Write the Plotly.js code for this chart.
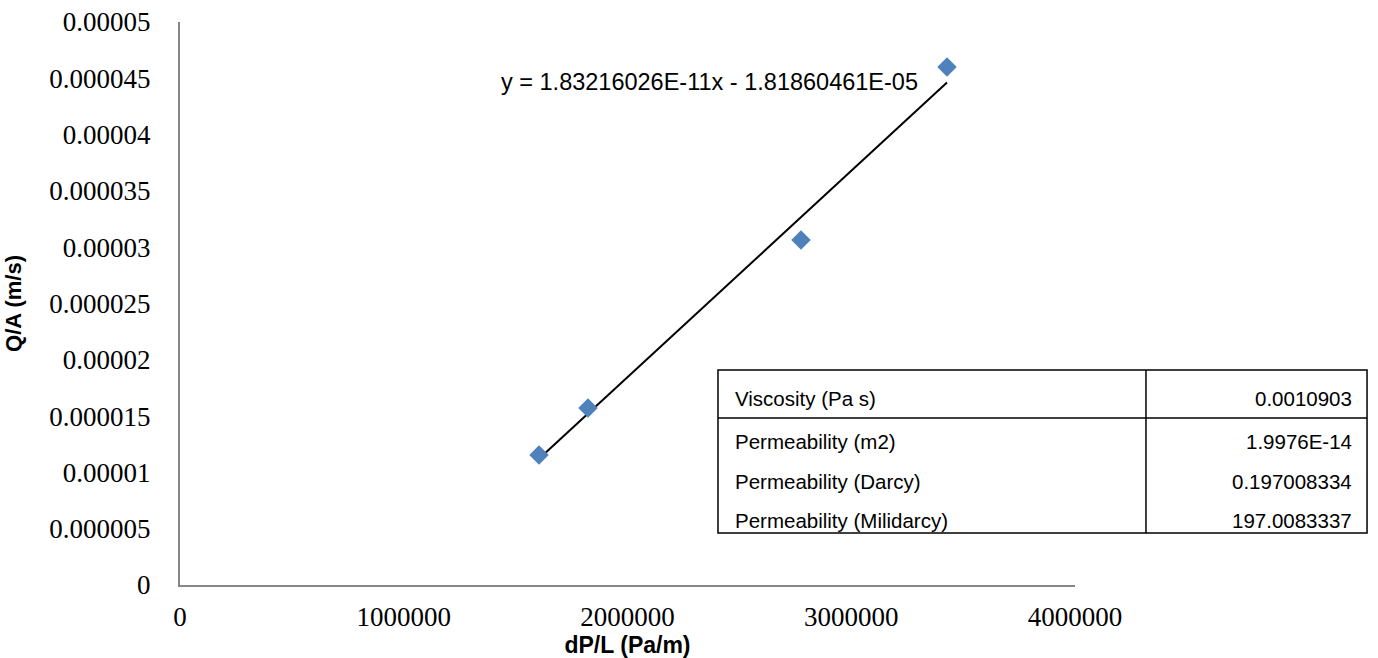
<!DOCTYPE html>
<html>
<head>
<meta charset="utf-8">
<script src="https://cdn.plot.ly/plotly-3.0.1.min.js"></script>
<style>html,body{margin:0;padding:0;background:#fff;}#chart{width:1378px;height:658px;}</style>
</head>
<body>
<div id="chart"></div>
<script>
// Data
const dPL = [1604500, 1823500, 2775400, 3427900];
const QA = [1.1545e-5, 1.572e-5, 3.064e-5, 4.600e-5];
const slope = 1.83216026e-11;
const intercept = -1.81860461e-5;
const equationText = 'y = 1.83216026E-11x - 1.81860461E-05';
const tableLabels = ['Viscosity (Pa s)', 'Permeability (m2)', 'Permeability (Darcy)', 'Permeability (Milidarcy)'];
const tableValues = ['0.0010903', '1.9976E-14', '0.197008334', '197.0083337'];
const xTicks = [0, 1000000, 2000000, 3000000, 4000000];
const yTicks = [0, 0.000005, 0.00001, 0.000015, 0.00002, 0.000025, 0.00003, 0.000035, 0.00004, 0.000045, 0.00005];
const yTickText = ['0', '0.000005', '0.00001', '0.000015', '0.00002', '0.000025', '0.00003', '0.000035', '0.00004', '0.000045', '0.00005'];

const xMin = Math.min(...dPL), xMax = Math.max(...dPL);
const trendX = [xMin, xMax];
const trendY = trendX.map(v => slope * v + intercept);

const traces = [
  {x: trendX, y: trendY, mode: 'lines', type: 'scatter', line: {color: '#000', width: 2}, hoverinfo: 'skip', showlegend: false},
  {x: dPL, y: QA, mode: 'markers', type: 'scatter', marker: {symbol: 'diamond', size: 15, color: '#4F81BD'}, showlegend: false}
];

// table geometry (paper coords)
const tx0 = 0.6011, tx1 = 1.3263, tdiv = 1.0793;
const rowTops = [0.3819, 0.2966, 0.2255, 0.1563];
const tyBot = 0.0924;
const shapes = [
  {type: 'rect', xref: 'paper', yref: 'paper', x0: tx0, x1: tx1, y0: tyBot, y1: rowTops[0], line: {color: '#000', width: 1.5}, fillcolor: 'rgba(0,0,0,0)'},
  {type: 'line', xref: 'paper', yref: 'paper', x0: tdiv, x1: tdiv, y0: tyBot, y1: rowTops[0], line: {color: '#000', width: 1.5}},
  {type: 'line', xref: 'paper', yref: 'paper', x0: tx0, x1: tx1, y0: rowTops[1], y1: rowTops[1], line: {color: '#000', width: 1.5}}
];
const rowCenters = [0.3321, 0.2557, 0.1847, 0.1137];
const annotations = [
  {xref: 'x', yref: 'y', x: 3307000, y: 4.465e-5, text: equationText, showarrow: false, xanchor: 'right', yanchor: 'middle',
   font: {family: 'Liberation Sans, Arial, sans-serif', size: 23.5, color: '#000'}}
];
tableLabels.forEach((t, i) => {
  annotations.push({xref: 'paper', yref: 'paper', x: tx0 + 0.017, y: rowCenters[i], text: t, showarrow: false, xanchor: 'left', yanchor: 'middle',
    font: {family: 'Liberation Sans, Arial, sans-serif', size: 20.5, color: '#000'}});
  annotations.push({xref: 'paper', yref: 'paper', x: tx1 - 0.015, y: rowCenters[i], text: tableValues[i], showarrow: false, xanchor: 'right', yanchor: 'middle',
    font: {family: 'Liberation Sans, Arial, sans-serif', size: 20.5, color: '#000'}});
});

const tickFont = {family: 'Liberation Serif, Times New Roman, serif', size: 27, color: '#000'};
const layout = {
  width: 1378, height: 658,
  margin: {l: 180, r: 303, t: 22, b: 73},
  paper_bgcolor: '#fff', plot_bgcolor: '#fff',
  showlegend: false,
  xaxis: {
    range: [0, 4000000], tickvals: xTicks, ticktext: xTicks.map(String),
    showgrid: false, zeroline: false, showline: true, linecolor: '#868686', linewidth: 2,
    ticks: '', ticklabelstandoff: 7, tickfont: tickFont,
    title: {text: 'dP/L (Pa/m)', font: {family: 'Liberation Sans, Arial, sans-serif', size: 23, color: '#000', weight: 'bold'}, standoff: 3}
  },
  yaxis: {
    range: [0, 0.00005], tickvals: yTicks, ticktext: yTickText,
    showgrid: false, zeroline: false, showline: true, linecolor: '#868686', linewidth: 2,
    ticks: '', ticklabelstandoff: 22, tickfont: tickFont,
    title: {text: 'Q/A (m/s)', font: {family: 'Liberation Sans, Arial, sans-serif', size: 22, color: '#000', weight: 'bold'}, standoff: 22}
  },
  shapes: shapes,
  annotations: annotations
};
Plotly.newPlot('chart', traces, layout, {displayModeBar: false, staticPlot: true});
</script>
</body>
</html>
